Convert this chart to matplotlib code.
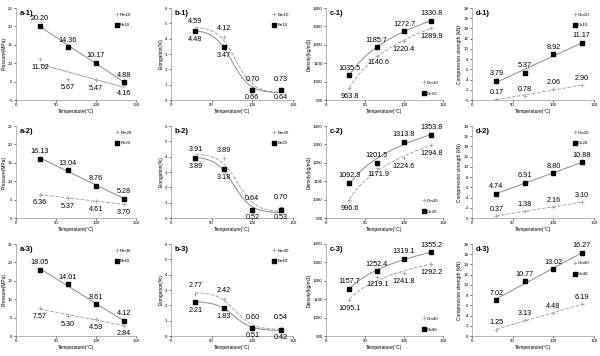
import matplotlib
matplotlib.use("Agg")
import matplotlib.pyplot as plt
import numpy as np

plt.rcParams['font.family'] = ['Liberation Sans', 'DejaVu Sans']

temps = [30, 65, 100, 135]

# a: pressure
pm10 = [11.02, 5.67, 5.47, 4.16]
pe10 = [20.20, 14.36, 10.17, 4.88]
pm20 = [6.36, 5.37, 4.61, 3.70]
pe20 = [16.13, 13.04, 8.76, 5.28]
pm40 = [7.57, 5.30, 4.59, 2.84]
pe40 = [18.05, 14.01, 8.61, 4.12]
# b: elongation
em10 = [4.59, 4.12, 0.70, 0.73]
ee10 = [4.48, 3.47, 0.66, 0.64]
em20 = [3.91, 3.89, 0.64, 0.70]
ee20 = [3.89, 3.18, 0.52, 0.53]
em40 = [2.77, 2.42, 0.60, 0.54]
ee40 = [2.21, 1.83, 0.51, 0.42]
# c: density
dm10 = [963.8, 1140.6, 1220.4, 1289.9]
de10 = [1035.5, 1185.7, 1272.7, 1330.8]
dm20 = [996.6, 1171.9, 1224.6, 1294.8]
de20 = [1092.3, 1201.5, 1313.8, 1353.8]
dm40 = [1095.1, 1219.1, 1241.8, 1292.2]
de40 = [1157.7, 1252.4, 1319.1, 1355.2]
# d: compression strength
cm10 = [0.17, 0.78, 2.06, 2.90]
ce10 = [3.79, 5.37, 8.92, 11.17]
cm20 = [0.37, 1.38, 2.16, 3.10]
ce20 = [4.74, 6.91, 8.80, 10.88]
cm40 = [1.25, 3.13, 4.48, 6.19]
ce40 = [7.02, 10.77, 13.02, 16.27]

cols = {
    'a': dict(ylabel='Pressure(MPa)', ylim=(0, 25), step=5, fit='lin', fmt='%.2f',
              names=('Pm', 'Pe'), data={1: (pm10, pe10), 2: (pm20, pe20), 3: (pm40, pe40)},
              left=16, right=136, leg='upper right'),
    'b': dict(ylabel='Elongation(%)', ylim=(0, 6), step=1, fit='sig', fmt='%.2f',
              names=('Em', 'Ee'), data={1: (em10, ee10), 2: (em20, ee20), 3: (em40, ee40)},
              left=171, right=293, leg='upper right'),
    'c': dict(ylabel='Density(kg/m3)', ylim=(900, 1400), step=100, fit='log', fmt='%.1f',
              names=('Dm', 'De'), data={1: (dm10, de10), 2: (dm20, de20), 3: (dm40, de40)},
              left=326, right=443, leg='lower right'),
    'd': dict(ylabel='Compression strength (kN)', ylim=(0, 18), step=2, fit='lin', fmt='%.2f',
              names=('Cm', 'Ce'), data={1: (cm10, ce10), 2: (cm20, ce20), 3: (cm40, ce40)},
              left=472, right=594, leg='upper right'),
}
suffix = {1: '10', 2: '20', 3: '40'}

# label offsets in points, text centred (grey series, black series)
offs = {
    'a': ([(0, -6), (0, -6), (0, -6), (0, -6)], [(0, 5), (0, 5), (0, 5), (0, 5)]),
    'b': ([(0, 6), (0, 6), (0, 7), (0, 7)], [(0, -6), (0, -6), (0, -5.5), (0, -5.5)]),
    'c': ([(0, -6), (1, -5), (0, -6), (0, -6)], [(0, 5), (0, 5), (0, 5), (0, 5)]),
    'd': ([(0, 5), (0, 5), (0, 5), (0, 5)], [(0, 5), (0, 5), (0, 5), (0, 5)]),
}

GREY = '#a6a6a6'
W, H = 600, 356


def trend(x, y, kind):
    x = np.asarray(x, float)
    y = np.asarray(y, float)
    xs = np.linspace(x.min(), x.max(), 120)
    if kind == 'lin':
        p = np.polyfit(x, y, 1)
        return xs, np.polyval(p, xs)
    if kind == 'log':
        p = np.polyfit(np.log(x), y, 1)
        return xs, np.polyval(p, np.log(xs))
    # sigmoid (Boltzmann) least squares by grid search
    best = None
    for x0 in np.linspace(50, 110, 121):
        for dx in np.linspace(11, 25, 57):
            s = 1 / (1 + np.exp((x - x0) / dx))
            A = np.column_stack([s, np.ones_like(s)])
            coef = np.linalg.lstsq(A, y, rcond=None)[0]
            r = np.sum((A @ coef - y) ** 2)
            if best is None or r < best[0]:
                best = (r, x0, dx, coef)
    _, x0, dx, coef = best
    s = 1 / (1 + np.exp((xs - x0) / dx))
    return xs, coef[0] * s + coef[1]


fig = plt.figure(figsize=(6, 3.56), dpi=100)

for key, c in cols.items():
    for row in (1, 2, 3):
        top = (row - 1) * 118 + 8
        bot = (row - 1) * 118 + 100
        ax = fig.add_axes([c['left'] / W, 1 - bot / H, (c['right'] - c['left']) / W, (bot - top) / H])
        ym, ye = c['data'][row]
        ls_m = '-' if (key == 'a' and row == 1) else '--'
        xs, ys = trend(temps, ym, c['fit'])
        ax.plot(xs, ys, color=GREY, lw=0.7, ls=ls_m)
        xs, ys = trend(temps, ye, c['fit'])
        ax.plot(xs, ys, color='#8c8c8c', lw=0.7)
        ax.plot(temps, ym, ls='none', marker='+', ms=3, mew=0.6, color=GREY,
                label=c['names'][0] + suffix[row])
        ax.plot(temps, ye, ls='none', marker='s', ms=3, color='black',
                label=c['names'][1] + suffix[row])
        for i, t in enumerate(temps):
            ax.annotate(c['fmt'] % ym[i], (t, ym[i]), xytext=offs[key][0][i],
                        textcoords='offset points', ha='center', va='center', fontsize=5.2)
            ax.annotate(c['fmt'] % ye[i], (t, ye[i]), xytext=offs[key][1][i],
                        textcoords='offset points', ha='center', va='center', fontsize=5.2)
        ax.set_xlim(0, 150)
        ax.set_xticks([0, 50, 100, 150])
        ax.set_ylim(*c['ylim'])
        ax.set_yticks(np.arange(c['ylim'][0], c['ylim'][1] + 0.1, c['step']))
        ax.tick_params(labelsize=3.2, length=1.5, width=0.4, pad=1)
        for s in ('top', 'right'):
            ax.spines[s].set_visible(False)
        for s in ('left', 'bottom'):
            ax.spines[s].set_linewidth(0.4)
            ax.spines[s].set_color('#808080')
        ax.set_xlabel('Temperature(°C)', fontsize=3.5, labelpad=1)
        ax.set_ylabel(c['ylabel'], fontsize=3.5, labelpad=1)
        ax.text(0.03, 0.98, '%s-%d)' % (key, row), transform=ax.transAxes,
                fontsize=5.5, fontweight='bold', va='top')
        anchor = (1, 0.86) if (key == 'd' and row == 3) else None
        ax.legend(loc=c['leg'], bbox_to_anchor=anchor, fontsize=3.2, frameon=False,
                  handlelength=0.8, handletextpad=0.3, labelspacing=1.5, borderaxespad=0.6)

fig.savefig('out.png', dpi=100)
